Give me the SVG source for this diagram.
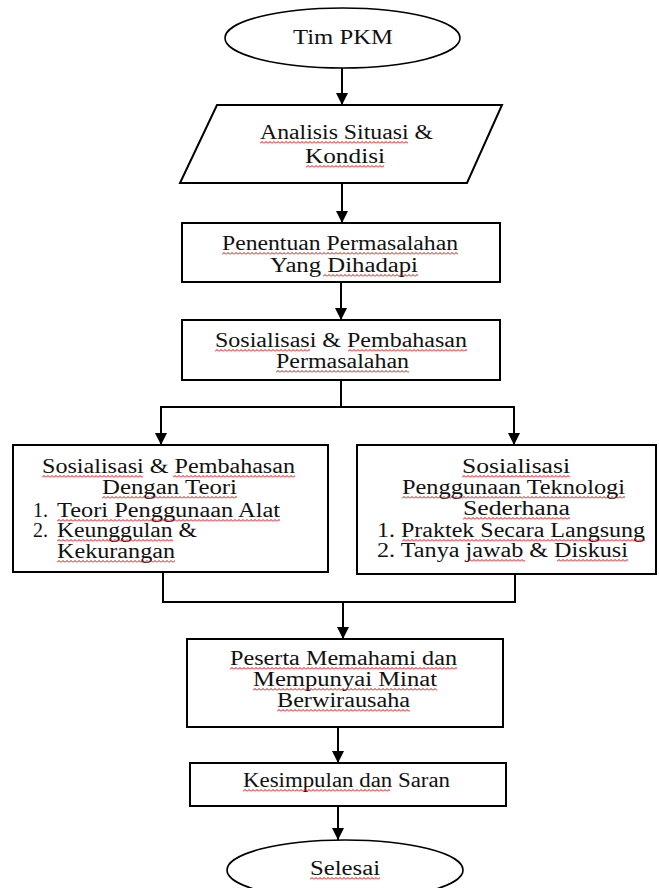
<svg xmlns="http://www.w3.org/2000/svg" width="659" height="888" viewBox="0 0 659 888">
<style>
.shape{fill:#fff;stroke:#000;stroke-width:2}
.oval{fill:#fff;stroke:#000;stroke-width:1.6}
.conn{fill:none;stroke:#000;stroke-width:2}
.t{font-family:'Liberation Serif','DejaVu Serif',serif;font-size:20px;fill:#111}
.c{text-anchor:middle}
</style>
<defs>
<marker id="ah" markerUnits="userSpaceOnUse" markerWidth="12" markerHeight="12" refX="12" refY="6" orient="auto">
<path d="M0,0 L12,6 L0,12 z" fill="#000"/>
</marker>
<pattern id="sq" patternUnits="userSpaceOnUse" width="4" height="3">
<path d="M0,2.5 L2,0.5 L4,2.5" fill="none" stroke="#e00000" stroke-width="1"/>
</pattern>
</defs>
<rect width="659" height="888" fill="#fff"/>

<g id="connectors">
<line class="conn" x1="342" y1="68" x2="342" y2="105" marker-end="url(#ah)"/>
<line class="conn" x1="342" y1="183" x2="342" y2="223" marker-end="url(#ah)"/>
<line class="conn" x1="341" y1="282" x2="341" y2="320" marker-end="url(#ah)"/>
<polyline class="conn" points="341,380 341,407"/>
<polyline class="conn" points="161,445 161,407 514,407 514,445"/>
<line class="conn" x1="161" y1="420" x2="161" y2="445" marker-end="url(#ah)"/>
<line class="conn" x1="514" y1="420" x2="514" y2="445" marker-end="url(#ah)"/>
<polyline class="conn" points="163,572 163,602 515,602 515,574"/>
<line class="conn" x1="343" y1="602" x2="343" y2="639" marker-end="url(#ah)"/>
<line class="conn" x1="338" y1="727" x2="338" y2="763" marker-end="url(#ah)"/>
<line class="conn" x1="338" y1="806" x2="338" y2="840" marker-end="url(#ah)"/>
</g>

<g id="start">
<ellipse class="oval" cx="342.5" cy="38" rx="117.5" ry="30"/>
<text class="t c" font-family="Liberation Serif" x="343" y="44" textLength="100" lengthAdjust="spacingAndGlyphs">Tim PKM</text>
</g>

<g id="analisis">
<polygon class="shape" points="217,105 502,105 467,183 180,183"/>
<text class="t c" font-family="Liberation Serif" x="346.5" y="139" textLength="173" lengthAdjust="spacingAndGlyphs">Analisis Situasi &amp;</text>
<text class="t c" font-family="Liberation Serif" x="345" y="163" textLength="80" lengthAdjust="spacingAndGlyphs">Kondisi</text>
<rect x="0" y="0" width="148" height="3" fill="url(#sq)" transform="translate(260,141)"/>
<rect x="0" y="0" width="78" height="3" fill="url(#sq)" transform="translate(306,165)"/>
</g>

<g id="penentuan">
<rect class="shape" x="182" y="223" width="318" height="59"/>
<text class="t c" font-family="Liberation Serif" x="340" y="250" textLength="236" lengthAdjust="spacingAndGlyphs">Penentuan Permasalahan</text>
<text class="t c" font-family="Liberation Serif" x="344" y="272" textLength="148" lengthAdjust="spacingAndGlyphs">Yang Dihadapi</text>
<rect x="0" y="0" width="236" height="3" fill="url(#sq)" transform="translate(222,252)"/>
<rect x="0" y="0" width="95" height="3" fill="url(#sq)" transform="translate(323,274)"/>
</g>

<g id="sosialisasi">
<rect class="shape" x="182" y="320" width="318" height="60"/>
<text class="t c" font-family="Liberation Serif" x="341" y="347" textLength="252" lengthAdjust="spacingAndGlyphs">Sosialisasi &amp; Pembahasan</text>
<text class="t c" font-family="Liberation Serif" x="342.5" y="368" textLength="133" lengthAdjust="spacingAndGlyphs">Permasalahan</text>
<rect x="0" y="0" width="95" height="3" fill="url(#sq)" transform="translate(215,349)"/>
<rect x="0" y="0" width="119" height="3" fill="url(#sq)" transform="translate(348,349)"/>
<rect x="0" y="0" width="133" height="3" fill="url(#sq)" transform="translate(276,370)"/>
</g>

<g id="teori">
<rect class="shape" x="13" y="445" width="315" height="127"/>
<text class="t c" font-family="Liberation Serif" x="168.5" y="473" textLength="253" lengthAdjust="spacingAndGlyphs">Sosialisasi &amp; Pembahasan</text>
<text class="t c" font-family="Liberation Serif" x="169.5" y="494" textLength="135" lengthAdjust="spacingAndGlyphs">Dengan Teori</text>
<text class="t" font-family="Liberation Serif" x="33" y="517">1.</text>
<text class="t" font-family="Liberation Serif" x="57" y="517" textLength="223" lengthAdjust="spacingAndGlyphs">Teori Penggunaan Alat</text>
<text class="t" font-family="Liberation Serif" x="33" y="537">2.</text>
<text class="t" font-family="Liberation Serif" x="57" y="537" textLength="140" lengthAdjust="spacingAndGlyphs">Keunggulan &amp;</text>
<text class="t" font-family="Liberation Serif" x="57" y="558" textLength="118" lengthAdjust="spacingAndGlyphs">Kekurangan</text>
<rect x="0" y="0" width="101" height="3" fill="url(#sq)" transform="translate(42,475)"/>
<rect x="0" y="0" width="122" height="3" fill="url(#sq)" transform="translate(173,475)"/>
<rect x="0" y="0" width="135" height="3" fill="url(#sq)" transform="translate(102,496)"/>
<rect x="0" y="0" width="223" height="3" fill="url(#sq)" transform="translate(57,519)"/>
<rect x="0" y="0" width="116" height="3" fill="url(#sq)" transform="translate(57,539)"/>
<rect x="0" y="0" width="118" height="3" fill="url(#sq)" transform="translate(57,560)"/>
</g>

<g id="teknologi">
<rect class="shape" x="357" y="445" width="299" height="129"/>
<text class="t c" font-family="Liberation Serif" x="516" y="473" textLength="108" lengthAdjust="spacingAndGlyphs">Sosialisasi</text>
<text class="t c" font-family="Liberation Serif" x="513.5" y="494" textLength="223" lengthAdjust="spacingAndGlyphs">Penggunaan Teknologi</text>
<text class="t c" font-family="Liberation Serif" x="516.5" y="515" textLength="107" lengthAdjust="spacingAndGlyphs">Sederhana</text>
<text class="t" font-family="Liberation Serif" x="377" y="537" textLength="268" lengthAdjust="spacingAndGlyphs">1. Praktek Secara Langsung</text>
<text class="t" font-family="Liberation Serif" x="377" y="557" textLength="251" lengthAdjust="spacingAndGlyphs">2. Tanya jawab &amp; Diskusi</text>
<rect x="0" y="0" width="108" height="3" fill="url(#sq)" transform="translate(462,475)"/>
<rect x="0" y="0" width="223" height="3" fill="url(#sq)" transform="translate(402,496)"/>
<rect x="0" y="0" width="107" height="3" fill="url(#sq)" transform="translate(463,517)"/>
<rect x="0" y="0" width="243" height="3" fill="url(#sq)" transform="translate(402,539)"/>
<rect x="0" y="0" width="57" height="3" fill="url(#sq)" transform="translate(468,559)"/>
<rect x="0" y="0" width="71" height="3" fill="url(#sq)" transform="translate(557,559)"/>
</g>

<g id="peserta">
<rect class="shape" x="187" y="639" width="316" height="88"/>
<text class="t c" font-family="Liberation Serif" x="343.5" y="665" textLength="227" lengthAdjust="spacingAndGlyphs">Peserta Memahami dan</text>
<text class="t c" font-family="Liberation Serif" x="345" y="686" textLength="184" lengthAdjust="spacingAndGlyphs">Mempunyai Minat</text>
<text class="t c" font-family="Liberation Serif" x="343.5" y="707" textLength="133" lengthAdjust="spacingAndGlyphs">Berwirausaha</text>
<rect x="0" y="0" width="227" height="3" fill="url(#sq)" transform="translate(230,667)"/>
<rect x="0" y="0" width="184" height="3" fill="url(#sq)" transform="translate(253,688)"/>
<rect x="0" y="0" width="133" height="3" fill="url(#sq)" transform="translate(277,709)"/>
</g>

<g id="kesimpulan">
<rect class="shape" x="190" y="763" width="316" height="43"/>
<text class="t c" font-family="Liberation Serif" x="346.5" y="787" textLength="207" lengthAdjust="spacingAndGlyphs">Kesimpulan dan Saran</text>
<rect x="0" y="0" width="147" height="3" fill="url(#sq)" transform="translate(243,789)"/>
</g>

<g id="end">
<ellipse class="oval" cx="345" cy="870" rx="118" ry="30"/>
<text class="t c" font-family="Liberation Serif" x="345" y="875" textLength="70" lengthAdjust="spacingAndGlyphs">Selesai</text>
<rect x="0" y="0" width="70" height="3" fill="url(#sq)" transform="translate(310,877)"/>
</g>
</svg>
